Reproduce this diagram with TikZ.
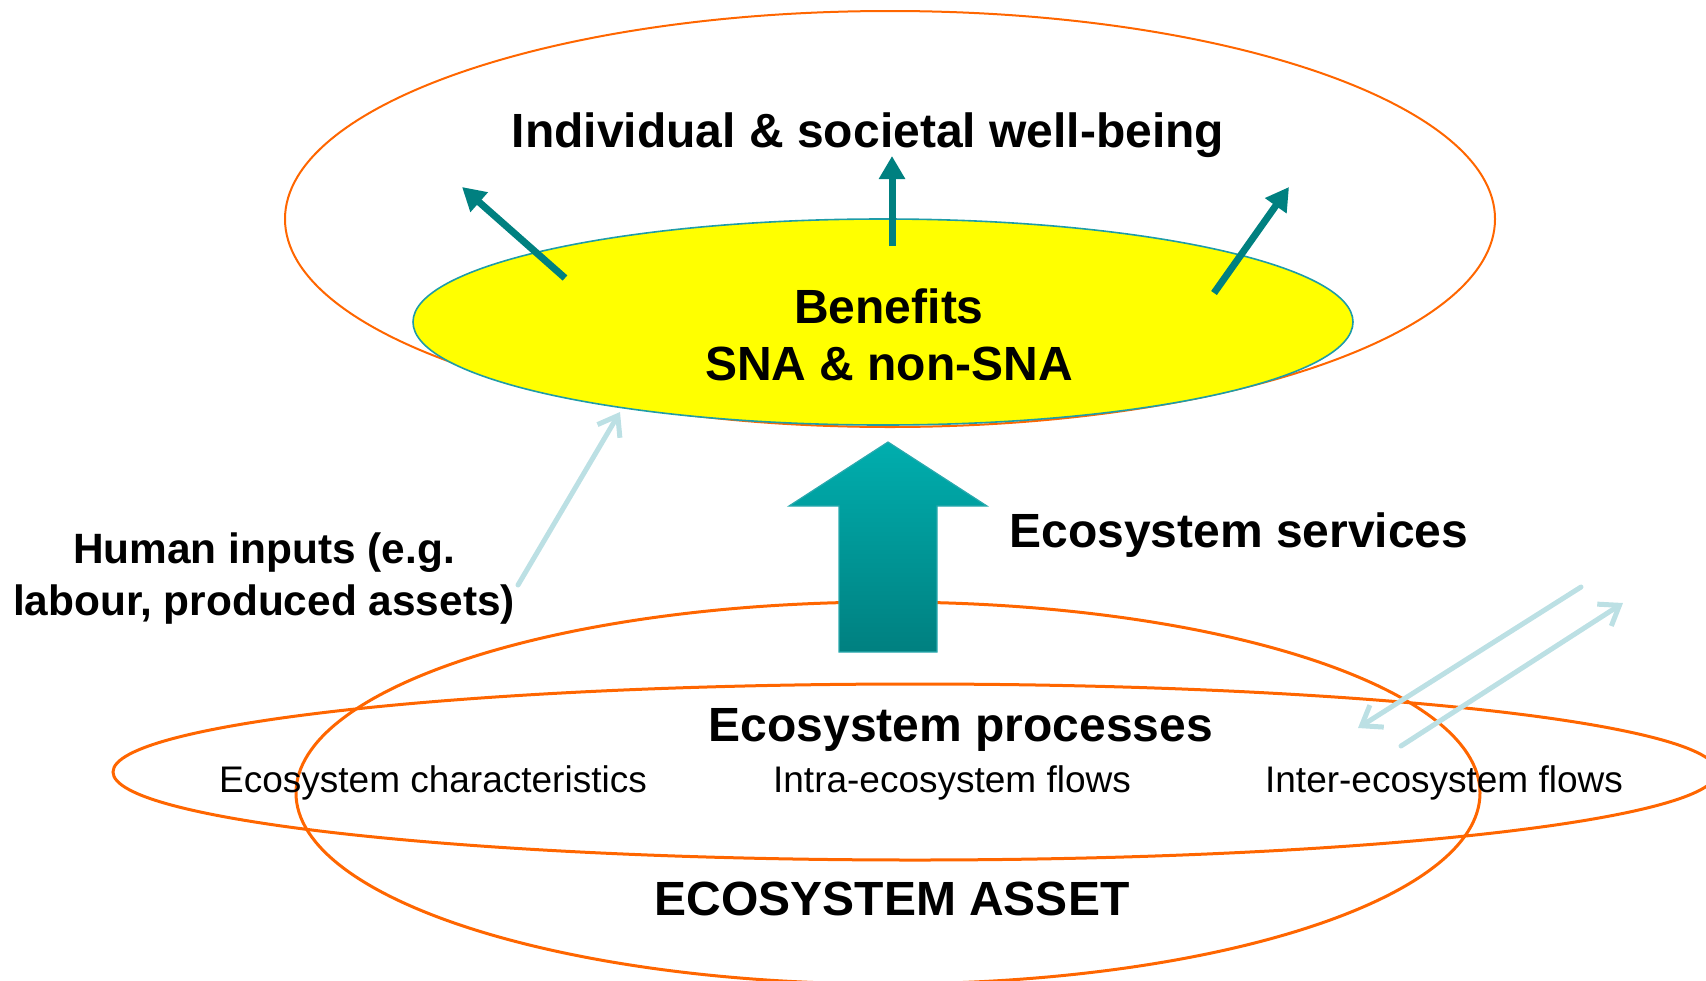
\documentclass[tikz,border=0pt]{standalone}
\usepackage{fontspec}
\setmainfont{Liberation Sans}
\usepackage{xcolor}
\usetikzlibrary{shapes.geometric,arrows.meta,positioning}

\definecolor{ringorange}{HTML}{FF6600}
\definecolor{benefityellow}{HTML}{FFFF00}
\definecolor{benefitedge}{HTML}{1E9CA8}
\definecolor{flowteal}{HTML}{008080}
\definecolor{inputblue}{HTML}{BCE0E4}
\definecolor{arrowtop}{HTML}{00AEAE}
\definecolor{arrowbot}{HTML}{008080}
\definecolor{arrowedge}{HTML}{2AA9AE}

\begin{document}
\begin{tikzpicture}[x=0.5pt, y=-0.5pt,
        ring/.style={ellipse, draw=ringorange, line width=1.5pt, inner sep=0pt},
        benefitring/.style={ellipse, draw=benefitedge, fill=benefityellow, line width=0.8pt, inner sep=0pt},
        title/.style={font=\fontsize{24}{28.5}\selectfont\bfseries, align=center, inner sep=0pt},
        sublabel/.style={font=\fontsize{18.5}{22}\selectfont, inner sep=0pt},
        outarrow/.style={-{Triangle[length=11.5pt, width=12.5pt]}, line width=3.5pt, flowteal},
        inarrow/.style={-{Straight Barb[length=9pt, width=13pt]}, line width=2.5pt, inputblue, line cap=round}
    ]
        \useasboundingbox (0,0) rectangle (1706,980);

        % Ellipses
        \node[ring, line width=1pt, minimum width=605pt, minimum height=208pt] (wellbeing) at (890,219) {};
        \node[benefitring, minimum width=470pt, minimum height=103pt] (benefits) at (883,322) {};
        \node[ring, minimum width=592pt, minimum height=191pt] (asset) at (888,793) {};
        \node[ring, minimum width=802pt, minimum height=88pt] (processes) at (915,772) {};

        % Big arrow
        \shadedraw[top color=arrowtop, bottom color=arrowbot, draw=arrowedge, line width=0.6pt]
            (888,442) -- (987,506) -- (937,506) -- (937,652) -- (839,652) -- (839,506) -- (789,506) -- cycle;

        % Labels
        \node[title] (wellbeinglabel) at (868,135) {Individual \& societal well-being};
        \node[title] (benefitslabel) at (889,335) {Benefits\\SNA \& non-SNA};
        \node[title, anchor=west] (serviceslabel) at (1009,535) {Ecosystem services};
        \node[title, font=\fontsize{21.2}{26}\selectfont\bfseries] (inputslabel) at (264,579) {Human inputs (e.g.\\labour, produced assets)};
        \node[title] (processeslabel) at (961,730) {Ecosystem processes};
        \node[sublabel] (characteristics) at (433,783) {Ecosystem characteristics};
        \node[sublabel] (intraflows) at (952,783) {Intra-ecosystem flows};
        \node[sublabel] (interflows) at (1444,783) {Inter-ecosystem flows};
        \node[title] (assetlabel) at (892,899) {ECOSYSTEM ASSET};

        % Arrow ends
        \coordinate (leftstart) at (565,278);
        \coordinate (leftend) at (462,187);
        \coordinate (midstart) at (892,246);
        \coordinate (midend) at (892,156);
        \coordinate (rightstart) at (1214,293);
        \coordinate (rightend) at (1289,187);
        \coordinate (inputstart) at (518,585);
        \coordinate (inputend) at (620,412);
        \coordinate (inflowstart) at (1581,587);
        \coordinate (inflowend) at (1358,728);
        \coordinate (outflowstart) at (1401,746);
        \coordinate (outflowend) at (1623,603);

        % Arrows
        \draw[outarrow] (leftstart) -- (leftend);
        \draw[outarrow] (midstart) -- (midend);
        \draw[outarrow] (rightstart) -- (rightend);
        \draw[inarrow] (inputstart) -- (inputend);
        \draw[inarrow] (inflowstart) -- (inflowend);
        \draw[inarrow] (outflowstart) -- (outflowend);

    \end{tikzpicture}
\end{document}
